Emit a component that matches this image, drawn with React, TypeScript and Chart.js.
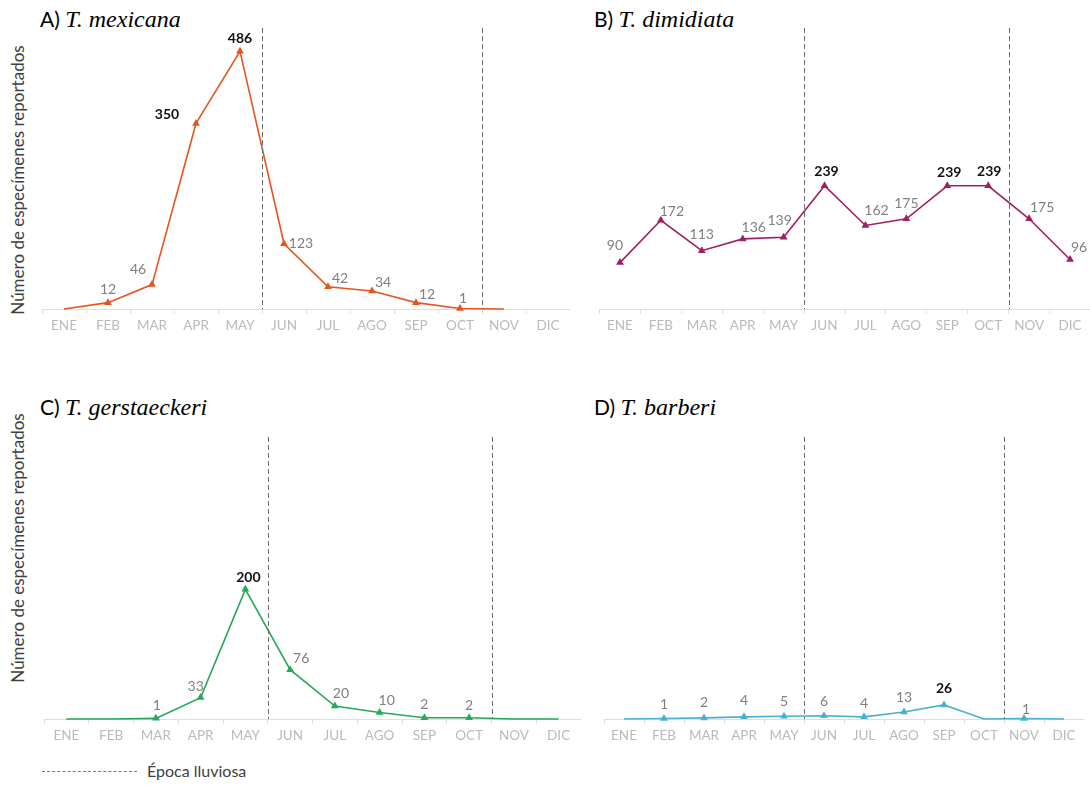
import React, { useEffect, useRef } from "react";
import { Chart, registerables } from "chart.js";

Chart.register(...registerables);

// Month labels (Spanish)
const months = ["ENE", "FEB", "MAR", "APR", "MAY", "JUN", "JUL", "AGO", "SEP", "OCT", "NOV", "DIC"];

// Specimens reported per month for each species
const mexicana: (number | null)[] = [0, 12, 46, 350, 486, 123, 42, 34, 12, 1, 0, null];
const dimidiata: (number | null)[] = [90, 172, 113, 136, 139, 239, 162, 175, 239, 239, 175, 96];
const gerstaeckeri: (number | null)[] = [0, 0, 1, 33, 200, 76, 20, 10, 2, 2, 0, 0];
const barberi: (number | null)[] = [0, 1, 2, 4, 5, 6, 4, 13, 26, 0, 1, 0];

// Indices of the highlighted (bold) values
const boldMexicana = [3, 4];
const boldDimidiata = [5, 8, 9];
const boldGerstaeckeri = [4];
const boldBarberi = [8];

// Rainy season limits, on the category axis (between MAY/JUN and OCT/NOV)
const rainyStart = 4.5;
const rainyEnd = 9.5;

// Label offsets [dx, dy] relative to each point
const offMexicana: [number, number][] = [[0, 0], [0, -13], [-14, -15], [-29, -9], [0, -13], [17, 0], [12, -8], [11, -8], [11, -8], [3, -10], [0, 0], [0, 0]];
const offDimidiata: [number, number][] = [[-5, -17], [11, -9], [0, -16], [11, -11], [-4, -17], [2, -14], [11, -15], [0, -15], [2, -13], [1, -14], [13, -11], [9, -12]];
const offGerstaeckeri: [number, number][] = [[0, 0], [0, 0], [1, -13], [-5, -11], [3, -12], [11, -11], [6, -13], [7, -12], [0, -13], [0, -12], [0, 0], [0, 0]];
const offBarberi: [number, number][] = [[0, 0], [0, -14], [0, -15], [0, -16], [0, -15], [0, -14], [0, -13], [0, -14], [0, -16], [0, 0], [2, -9], [0, 0]];

const FONT = "Lato, 'Open Sans', sans-serif";

const rainyPlugin = {
  id: "rainySeason",
  afterDatasetsDraw(chart: any) {
    const { ctx, chartArea, scales } = chart;
    ctx.save();
    ctx.strokeStyle = "#6b6b6b";
    ctx.lineWidth = 1;
    ctx.setLineDash([5, 3]);
    [rainyStart, rainyEnd].forEach((v) => {
      const x = Math.round(scales.x.getPixelForValue(v)) + 0.5;
      ctx.beginPath();
      ctx.moveTo(x, chartArea.top);
      ctx.lineTo(x, chartArea.bottom);
      ctx.stroke();
    });
    ctx.restore();
  },
};

const valueLabelPlugin = {
  id: "valueLabels",
  afterDatasetsDraw(chart: any, _args: any, opts: any) {
    const { ctx } = chart;
    const meta = chart.getDatasetMeta(0);
    const data = chart.data.datasets[0].data as (number | null)[];
    ctx.save();
    ctx.textAlign = "center";
    ctx.textBaseline = "middle";
    meta.data.forEach((pt: any, i: number) => {
      const v = data[i];
      if (v === null || v === 0) return;
      const bold = opts.bold.includes(i);
      ctx.font = `${bold ? "bold " : ""}14px ${FONT}`;
      ctx.fillStyle = bold ? "#111111" : "#7f7f7f";
      const [dx, dy] = opts.offsets[i];
      ctx.fillText(String(v), pt.x + dx, pt.y + dy);
    });
    ctx.restore();
  },
};

type PanelProps = {
  values: (number | null)[];
  color: string;
  max: number;
  bold: number[];
  offsets: [number, number][];
  left: number;
  top: number;
  width: number;
  plotHeight: number;
  padTop: number;
};

function Panel({ values, color, max, bold, offsets, left, top, width, plotHeight, padTop }: PanelProps) {
  const ref = useRef<HTMLCanvasElement>(null);
  const axisH = 32;
  const height = padTop + plotHeight + axisH;
  useEffect(() => {
    if (!ref.current) return;
    const chart = new Chart(ref.current, {
      type: "line",
      data: {
        labels: months,
        datasets: [
          {
            data: values,
            borderColor: color,
            backgroundColor: color,
            borderWidth: 1.6,
            pointStyle: "triangle",
            pointRadius: (c: any) => (c.raw ? 4.5 : 0),
            pointBorderWidth: 0,
            pointBackgroundColor: color,
            tension: 0,
            clip: false,
          } as any,
        ],
      },
      options: {
        animation: false,
        responsive: false,
        maintainAspectRatio: false,
        layout: { padding: { top: padTop, left: 0, right: 0, bottom: 0 } },
        plugins: {
          legend: { display: false },
          tooltip: { enabled: false },
          valueLabels: { bold, offsets },
        } as any,
        scales: {
          x: {
            offset: true,
            grid: { offset: true, drawOnChartArea: false, color: "#dedede", tickLength: 5 },
            border: { color: "#dedede" },
            ticks: { color: "#bababa", font: { family: FONT, size: 13.5 }, padding: 4, maxRotation: 0, autoSkip: false },
            afterFit: (s: any) => {
              s.height = axisH;
            },
          },
          y: { display: false, min: 0, max },
        },
      },
      plugins: [rainyPlugin, valueLabelPlugin],
    });
    return () => chart.destroy();
  }, []);
  return (
    <canvas
      ref={ref}
      width={width}
      height={height}
      style={{ position: "absolute", left, top: top - padTop, width, height }}
    />
  );
}

const titleStyle = (left: number, top: number): React.CSSProperties => ({
  position: "absolute",
  left,
  top,
  fontFamily: FONT,
  fontSize: 21,
  color: "#000",
  whiteSpace: "nowrap",
  lineHeight: "26px",
});

const sp: React.CSSProperties = { fontFamily: "'Liberation Serif', serif", fontStyle: "italic", fontSize: 24 };

const yTitle = (cx: number, cy: number): React.CSSProperties => ({
  position: "absolute",
  left: cx - 150,
  top: cy - 10,
  width: 300,
  height: 20,
  lineHeight: "20px",
  textAlign: "center",
  transform: "rotate(-90deg)",
  fontFamily: FONT,
  fontSize: 17,
  color: "#404040",
  whiteSpace: "nowrap",
});

export default function App() {
  return (
    <div style={{ position: "absolute", left: 0, top: 0, width: 1090, height: 785, overflow: "hidden", background: "#fff" }}>
      <div style={titleStyle(40, 6)}>A) <span style={sp}>T. mexicana</span></div>
      <div style={titleStyle(594, 6)}>B) <span style={sp}>T. dimidiata</span></div>
      <div style={titleStyle(40, 394)}>C) <span style={sp}>T. gerstaeckeri</span></div>
      <div style={titleStyle(594, 394)}>D) <span style={sp}>T. barberi</span></div>

      <div style={yTitle(18, 180)}>Número de especímenes reportados</div>
      <div style={yTitle(18, 548)}>Número de especímenes reportados</div>

      <Panel values={mexicana} color="#e4561f" max={530} bold={boldMexicana} offsets={offMexicana}
        left={42} top={28} width={528} plotHeight={281} padTop={20} />
      <Panel values={dimidiata} color="#a01f62" max={545} bold={boldDimidiata} offsets={offDimidiata}
        left={595} top={28} width={500} plotHeight={281} padTop={20} />
      <Panel values={gerstaeckeri} color="#26a85a" max={435} bold={boldGerstaeckeri} offsets={offGerstaeckeri}
        left={44} top={437} width={537} plotHeight={282} padTop={20} />
      <Panel values={barberi} color="#48b1d3" max={520} bold={boldBarberi} offsets={offBarberi}
        left={604} top={437} width={480} plotHeight={282} padTop={20} />

      <div style={{ position: "absolute", left: 42, top: 771, width: 95, borderTop: "1px dashed #7a7a7a" }} />
      <div style={{ position: "absolute", left: 147, top: 760, fontFamily: FONT, fontSize: 16, color: "#404040", lineHeight: "22px" }}>
        Época lluviosa
      </div>
    </div>
  );
}
